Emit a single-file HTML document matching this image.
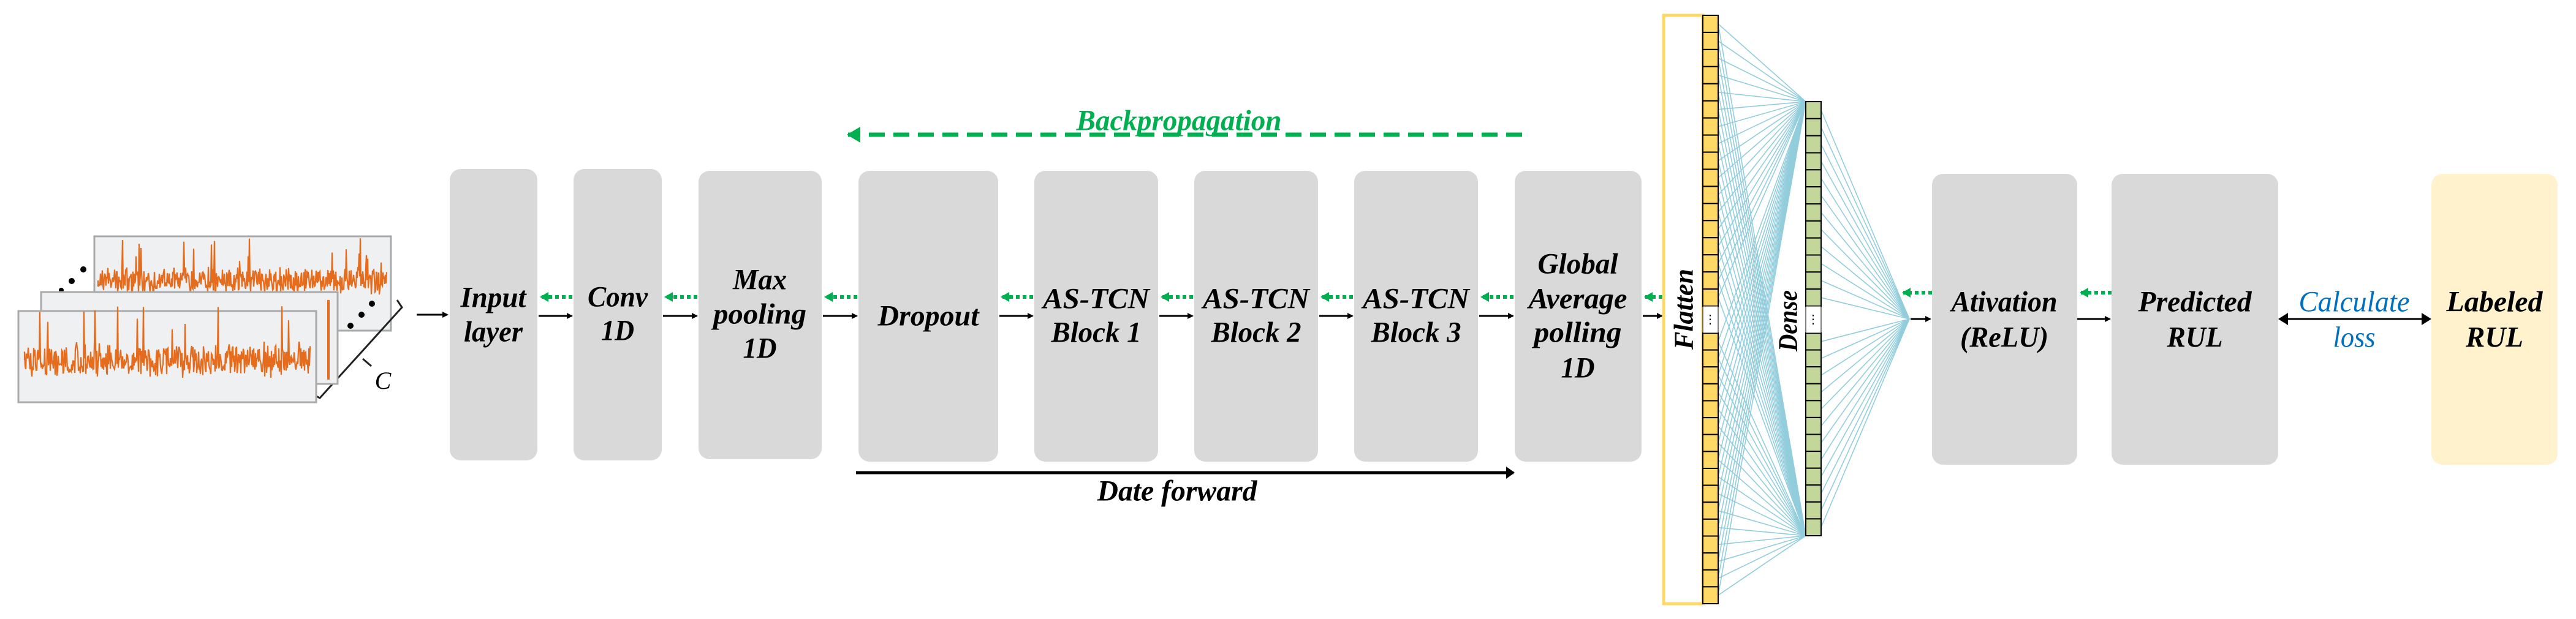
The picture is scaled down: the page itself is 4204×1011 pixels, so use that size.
<!DOCTYPE html>
<html><head><meta charset="utf-8"><style>
html,body{margin:0;padding:0;background:#fff;}
svg{display:block;}
text{font-family:"Liberation Serif","DejaVu Serif",serif;font-weight:bold;font-style:italic;font-size:48px;}
</style></head><body>
<svg id="s" xmlns="http://www.w3.org/2000/svg" width="4204" height="1011" viewBox="0 0 4204 1011">
<defs>
<marker id="ab" markerWidth="10" markerHeight="10" refX="8" refY="5" orient="auto" markerUnits="userSpaceOnUse"><path d="M0,0 L10,5 L0,10 z" fill="#000"/></marker>
<marker id="ag" markerWidth="14" markerHeight="16" refX="12" refY="8" orient="auto" markerUnits="userSpaceOnUse"><path d="M0,0 L14,8 L0,16 z" fill="#00b050"/></marker>
<marker id="ag2" markerWidth="22" markerHeight="26" refX="20" refY="13" orient="auto" markerUnits="userSpaceOnUse"><path d="M0,0 L22,13 L0,26 z" fill="#00b050"/></marker>
<marker id="ak" markerWidth="14" markerHeight="20" refX="12" refY="10" orient="auto" markerUnits="userSpaceOnUse"><path d="M0,0 L14,10 L0,20 z" fill="#000"/></marker>
</defs>

<g id="panels">
<rect x="154" y="386" width="484" height="154" fill="#eef0f2" stroke="#aaa" stroke-width="3"/>
</g>
<circle cx="136" cy="440" r="5"/><circle cx="117" cy="459" r="5"/><circle cx="100" cy="474" r="4"/>
<circle cx="607" cy="496" r="5"/><circle cx="590" cy="514" r="5"/><circle cx="572" cy="532" r="5"/>
<path d="M648,490 L656,502 L522,650 L506,642" fill="none" stroke="#222" stroke-width="3"/>
<path d="M592,586 L606,598" stroke="#222" stroke-width="3"/>
<text x="625" y="635" text-anchor="middle" style="font-weight:normal;font-size:40px">C</text>

<g fill="#d9d9d9">
<rect x="734" y="276" width="143" height="476" rx="18"/>
<rect x="936" y="276" width="144" height="476" rx="18"/>
<rect x="1140" y="279" width="201" height="471" rx="18"/>
<rect x="1401" y="279" width="228" height="475" rx="18"/>
<rect x="1688" y="279" width="202" height="475" rx="18"/>
<rect x="1949" y="279" width="202" height="475" rx="18"/>
<rect x="2210" y="279" width="202" height="475" rx="18"/>
<rect x="2472" y="279" width="207" height="475" rx="18"/>
<rect x="3153" y="284" width="237" height="475" rx="18"/>
<rect x="3446" y="284" width="272" height="475" rx="18"/>
</g>
<rect x="3968" y="284" width="206" height="475" rx="18" fill="#fff2cc"/>

<g id="arrows" stroke-width="3"></g>

<line x1="2484" y1="220" x2="1384" y2="220" stroke="#00b050" stroke-width="7" stroke-dasharray="26,14" marker-end="url(#ag2)"/>
<line x1="1397" y1="772" x2="2470" y2="772" stroke="#000" stroke-width="5" marker-end="url(#ak)"/>
<path d="M3718,521 L3734,511 L3734,531 z"/>
<line x1="3730" y1="521" x2="3955" y2="521" stroke="#000" stroke-width="3"/>
<path d="M3968,521 L3952,511 L3952,531 z"/>

<rect x="2715" y="25" width="64" height="961" fill="none" stroke="#ffd966" stroke-width="5"/>
<g id="nn"></g>

<g text-anchor="middle" dominant-baseline="central">
<text x="805" y="486" textLength="107" lengthAdjust="spacingAndGlyphs">Input</text>
<text x="805" y="542" textLength="96" lengthAdjust="spacingAndGlyphs">layer</text>
<text x="1008" y="485" textLength="98" lengthAdjust="spacingAndGlyphs">Conv</text>
<text x="1008" y="540" textLength="54" lengthAdjust="spacingAndGlyphs">1D</text>
<text x="1240" y="457" textLength="88" lengthAdjust="spacingAndGlyphs">Max</text>
<text x="1240" y="513" textLength="152" lengthAdjust="spacingAndGlyphs">pooling</text>
<text x="1240" y="569" textLength="55" lengthAdjust="spacingAndGlyphs">1D</text>
<text x="1515" y="516" textLength="165" lengthAdjust="spacingAndGlyphs">Dropout</text>
<text x="1789" y="488" textLength="174" lengthAdjust="spacingAndGlyphs">AS-TCN</text>
<text x="1789" y="543" textLength="147" lengthAdjust="spacingAndGlyphs">Block 1</text>
<text x="2050" y="488" textLength="174" lengthAdjust="spacingAndGlyphs">AS-TCN</text>
<text x="2050" y="543" textLength="147" lengthAdjust="spacingAndGlyphs">Block 2</text>
<text x="2311" y="488" textLength="174" lengthAdjust="spacingAndGlyphs">AS-TCN</text>
<text x="2311" y="543" textLength="147" lengthAdjust="spacingAndGlyphs">Block 3</text>
<text x="2575" y="431" textLength="131" lengthAdjust="spacingAndGlyphs">Global</text>
<text x="2575" y="488" textLength="161" lengthAdjust="spacingAndGlyphs">Average</text>
<text x="2575" y="543" textLength="143" lengthAdjust="spacingAndGlyphs">polling</text>
<text x="2575" y="601" textLength="55" lengthAdjust="spacingAndGlyphs">1D</text>
<text x="3271" y="493" textLength="173" lengthAdjust="spacingAndGlyphs">Ativation</text>
<text x="3271" y="551" textLength="144" lengthAdjust="spacingAndGlyphs">(ReLU)</text>
<text x="3582" y="493" textLength="185" lengthAdjust="spacingAndGlyphs">Predicted</text>
<text x="3582" y="551" textLength="91" lengthAdjust="spacingAndGlyphs">RUL</text>
<text x="4071" y="493" textLength="157" lengthAdjust="spacingAndGlyphs">Labeled</text>
<text x="4071" y="551" textLength="94" lengthAdjust="spacingAndGlyphs">RUL</text>
<text x="3842" y="493" fill="#0070c0" style="font-weight:normal" textLength="181" lengthAdjust="spacingAndGlyphs">Calculate</text>
<text x="3842" y="551" fill="#0070c0" style="font-weight:normal" textLength="69" lengthAdjust="spacingAndGlyphs">loss</text>
<text x="1924" y="197" fill="#00b050" textLength="335" lengthAdjust="spacingAndGlyphs">Backpropagation</text>
<text x="1921" y="802" textLength="261" lengthAdjust="spacingAndGlyphs">Date forward</text>
<text transform="translate(2748,505) rotate(-90)" textLength="132" lengthAdjust="spacingAndGlyphs" style="font-size:44px">Flatten</text>
<text transform="translate(2918,524) rotate(-90)" textLength="100" lengthAdjust="spacingAndGlyphs" style="font-size:44px">Dense</text>
</g>
</svg>
<script>
(function(){
var NS="http://www.w3.org/2000/svg",s=document.getElementById('s');
function el(t,a,p){var e=document.createElementNS(NS,t);for(var k in a)e.setAttribute(k,a[k]);(p||s).appendChild(e);return e;}
var seed=7;function r(){seed=(seed*16807)%2147483647;return seed/2147483647;}
function sig(x0,x1,cy,amp){var d="M"+x0+","+cy;for(var x=x0;x<=x1;x+=1){var a=amp*(0.6+r()*0.6);var y=cy+(r()-0.5)*2*a;if(r()<0.03)y=cy-(0.6+r())*amp*2.2;d+=" L"+x.toFixed(1)+","+y.toFixed(1);}
el('path',{d:d,fill:'none',stroke:'#e46c1c','stroke-width':2.2});}
sig(160,632,458,20);
el('rect',{x:67,y:477,width:484,height:150,fill:'#eef0f2',stroke:'#aaa','stroke-width':3});
el('path',{d:'M536,490 L536,620',stroke:'#e46c1c','stroke-width':4});
el('rect',{x:30,y:508,width:486,height:149,fill:'#eef0f2',stroke:'#aaa','stroke-width':3});
sig(40,506,588,26);
var A=document.getElementById('arrows');
var bx=[[734,877],[936,1080],[1140,1341],[1401,1629],[1688,1890],[1949,2151],[2210,2412],[2472,2679],[2715,0]];
el('line',{x1:680,y1:514,x2:730,y2:514,stroke:'#000','stroke-width':3,'marker-end':'url(#ab)'},A);
for(var i=0;i<bx.length-1;i++){var a=bx[i][1],b=bx[i+1][0];
 el('line',{x1:a+2,y1:516,x2:b-3,y2:516,stroke:'#000','stroke-width':3,'marker-end':'url(#ab)'},A);
 el('line',{x1:b-2,y1:485,x2:a+6,y2:485,stroke:'#00b050','stroke-width':6,'stroke-dasharray':'6,5','marker-end':'url(#ag)'},A);}
el('line',{x1:3118,y1:521,x2:3150,y2:521,stroke:'#000','stroke-width':3,'marker-end':'url(#ab)'},A);
el('line',{x1:3153,y1:478,x2:3106,y2:478,stroke:'#00b050','stroke-width':6,'stroke-dasharray':'6,5','marker-end':'url(#ag)'},A);
el('line',{x1:3390,y1:521,x2:3443,y2:521,stroke:'#000','stroke-width':3,'marker-end':'url(#ab)'},A);
el('line',{x1:3446,y1:478,x2:3396,y2:478,stroke:'#00b050','stroke-width':6,'stroke-dasharray':'6,5','marker-end':'url(#ag)'},A);
var N=document.getElementById('nn');
var fc=[],dc=[];
for(var i=0;i<17;i++)fc.push([25+i*475/17,475/17]);
for(var i=0;i<16;i++)fc.push([544+i*442/16,442/16]);
for(var i=0;i<12;i++)dc.push([166+i*334/12,334/12]);
for(var i=0;i<12;i++)dc.push([544+i*331/12,331/12]);
var ln='#92cddc';
fc.forEach(function(c){var y=c[0]+c[1]/2;
 el('line',{x1:2804,y1:y,x2:2947,y2:166,stroke:ln,'stroke-width':1.6},N);
 el('line',{x1:2804,y1:y,x2:2947,y2:875,stroke:ln,'stroke-width':1.6},N);});
dc.forEach(function(c){var y=c[0]+c[1]/2;el('line',{x1:2972,y1:y,x2:3116,y2:521,stroke:ln,'stroke-width':1.6},N);});
fc.forEach(function(c){el('rect',{x:2779,y:c[0],width:25,height:c[1],fill:'#ffd966',stroke:'#000','stroke-width':2},N);});
el('rect',{x:2779,y:500,width:25,height:44,fill:'#fff',stroke:'#000','stroke-width':1},N);
el('text',{x:2791,y:528,'text-anchor':'middle',style:'font-size:20px;font-style:normal;font-weight:normal'},N).textContent='⋮';
dc.forEach(function(c){el('rect',{x:2947,y:c[0],width:25,height:c[1],fill:'#c4d79b',stroke:'#000','stroke-width':2},N);});
el('rect',{x:2947,y:500,width:25,height:44,fill:'#fff',stroke:'#000','stroke-width':1},N);
el('text',{x:2959,y:528,'text-anchor':'middle',style:'font-size:20px;font-style:normal;font-weight:normal'},N).textContent='⋮';
var g=s.querySelectorAll('g[text-anchor]')[0];s.appendChild(g);
})();
</script>
</body></html>
